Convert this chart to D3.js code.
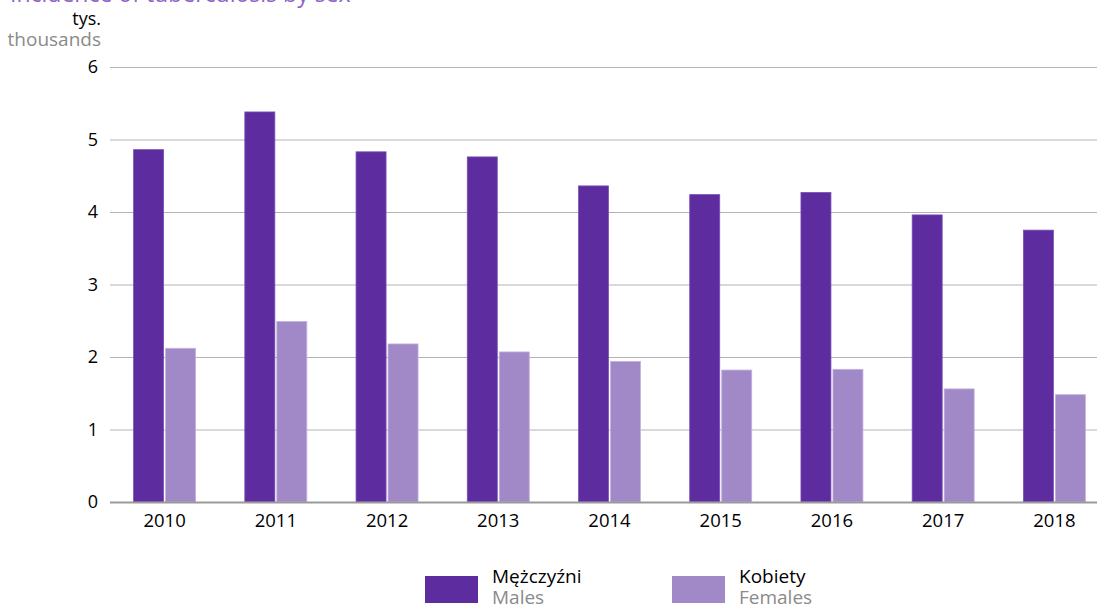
<!DOCTYPE html>
<html>
<head>
<meta charset="utf-8">
<script src="https://cdn.jsdelivr.net/npm/d3@7"></script>
<style>
  html, body { margin: 0; padding: 0; background: #fff; }
  svg { display: block; font-family: "Open Sans", "Noto Sans", sans-serif; }
</style>
</head>
<body>
<svg id="chart" width="1097" height="609"></svg>
<script>
const years = ["2010", "2011", "2012", "2013", "2014", "2015", "2016", "2017", "2018"];
const males = [4.86, 5.38, 4.83, 4.76, 4.36, 4.24, 4.27, 3.96, 3.75];
const females = [2.12, 2.49, 2.18, 2.07, 1.94, 1.82, 1.83, 1.56, 1.48];
const yTicks = [0, 1, 2, 3, 4, 5, 6];
const seriesKeys = ["m", "f"];
const seriesPl = ["Mężczyźni", "Kobiety"];
const seriesEn = ["Males", "Females"];
const colors = ["#5d2c9f", "#a189c8"];
const strokes = ["#7a50b8", "#c3b1e0"];

const svg = d3.select("#chart");

const x0 = d3.scaleBand().domain(years).range([109, 1110]).padding(0);
const x1 = d3.scaleBand().domain(seriesKeys).range([0, 62]).paddingInner(0.0625);
const y = d3.scaleLinear().domain([0, 6]).range([502, 67]);

// title (partially cut off at top)
svg.append("text")
  .attr("x", 10).attr("y", 2)
  .attr("fill", "#8e63c9")
  .attr("font-size", 23)
  .text("Incidence of tuberculosis by sex");

// unit labels
svg.append("text").attr("x", 101).attr("y", 25).attr("text-anchor", "end")
  .attr("font-size", 18).attr("fill", "#000").text("tys.");
svg.append("text").attr("x", 101).attr("y", 46).attr("text-anchor", "end")
  .attr("font-size", 19).attr("fill", "#8a8a8a").text("thousands");

// gridlines + y axis
const yAxis = d3.axisLeft(y).tickValues(yTicks).tickSize(0).tickPadding(12).tickFormat(d3.format("d"));
const gy = svg.append("g").attr("transform", "translate(110,0)").call(yAxis);
gy.select(".domain").remove();
gy.selectAll("text").attr("font-size", 18).attr("fill", "#000")
  .attr("font-family", "'Open Sans', sans-serif");

svg.append("g").selectAll("line").data(yTicks.filter(d => d > 0)).join("line")
  .attr("x1", 110).attr("x2", 1097)
  .attr("y1", d => y(d) + 0.5).attr("y2", d => y(d) + 0.5)
  .attr("stroke", "#b3b3b3").attr("stroke-width", 1);

// bars
const groups = svg.append("g").selectAll("g").data(years).join("g")
  .attr("transform", d => `translate(${x0(d) + x0.bandwidth() / 2 - 31},0)`);

groups.selectAll("rect")
  .data((d, i) => [{k: "m", v: males[i], c: 0}, {k: "f", v: females[i], c: 1}])
  .join("rect")
  .attr("x", d => x1(d.k))
  .attr("width", x1.bandwidth())
  .attr("y", d => y(d.v))
  .attr("height", d => y(0) - y(d.v))
  .attr("fill", d => colors[d.c])
  .attr("stroke", d => strokes[d.c])
  .attr("stroke-width", 0.8);

// baseline
svg.append("line").attr("x1", 110).attr("x2", 1097)
  .attr("y1", y(0) + 0.5).attr("y2", y(0) + 0.5)
  .attr("stroke", "#9a9a9a").attr("stroke-width", 2);

// x axis labels
const xAxis = d3.axisBottom(x0).tickSize(0).tickPadding(12);
const gx = svg.append("g").attr("transform", `translate(0,${y(0)})`).call(xAxis);
gx.select(".domain").remove();
gx.selectAll("text").attr("font-size", 18.5).attr("fill", "#000")
  .attr("font-family", "'Open Sans', sans-serif");

// legend
const legX = [425, 672];
const leg = svg.append("g").selectAll("g").data(seriesKeys).join("g")
  .attr("transform", (d, i) => `translate(${legX[i]},0)`);
leg.append("rect").attr("x", 0).attr("y", 576).attr("width", 53).attr("height", 27)
  .attr("fill", (d, i) => colors[i]);
leg.append("text").attr("x", 67).attr("y", 583).attr("font-size", 19).attr("fill", "#000")
  .text((d, i) => seriesPl[i]);
leg.append("text").attr("x", 67).attr("y", 604).attr("font-size", 19).attr("fill", "#8a8a8a")
  .text((d, i) => seriesEn[i]);
</script>
</body>
</html>
